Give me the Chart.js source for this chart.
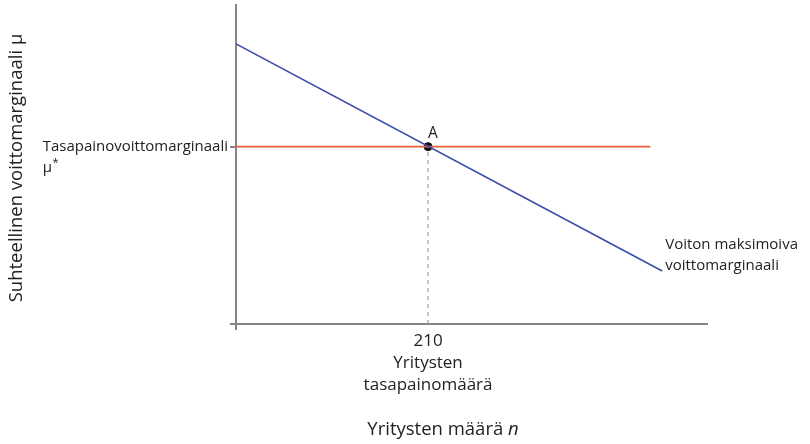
<!DOCTYPE html>
<html><head><meta charset="utf-8">
<script src="https://cdn.jsdelivr.net/npm/chart.js@4"></script>
<style>html,body{margin:0;padding:0;background:#fff}#wrap{width:810px;height:444px;position:relative}</style>
</head><body><div id="wrap"><canvas id="c"></canvas></div>
<script>
const xRange = [0, 515];
const yRange = [0, 100];
const profitMaxX = [0, 466];
const profitMaxY = [87.8, 16.6];
const equilX = [0, 453];
const muStar = 55.6;
const nStar = 210;
const xTickLabels = ['210', 'Yritysten', 'tasapainomäärä'];
const yLabelLines = ['Tasapainovoittomarginaali', 'μ', '*'];
const curveLabel = ['Voiton maksimoiva', 'voittomarginaali'];
const pointLabel = 'A';
const xTitle = 'Yritysten määrä ';
const xTitleVar = 'n';
const yTitle = 'Suhteellinen voittomarginaali μ';

const FONT = '"Open Sans", "Noto Sans", sans-serif';
const AXIS = '#858585';
const TXT = '#222';

const labels = {
  id: 'labels',
  afterDraw(chart) {
    const {ctx, scales: {x, y}, chartArea: a} = chart;
    ctx.save();
    ctx.fillStyle = TXT;
    ctx.font = '15px ' + FONT;
    ctx.textBaseline = 'middle';
    ctx.textAlign = 'right';
    const yp = y.getPixelForValue(muStar);
    ctx.fillText(yLabelLines[0], a.left - 8, yp);
    const w = ctx.measureText(yLabelLines[0]).width;
    ctx.textAlign = 'left';
    const lx = a.left - 8 - w;
    ctx.fillText(yLabelLines[1], lx, yp + 21);
    const mw = ctx.measureText(yLabelLines[1]).width;
    ctx.font = '11px ' + FONT;
    ctx.fillText(yLabelLines[2], lx + mw + 0.5, yp + 16);
    ctx.font = '15.5px ' + FONT;
    ctx.fillText(pointLabel, x.getPixelForValue(nStar) + 0, yp - 13);
    ctx.font = '15px ' + FONT;
    ctx.fillText(curveLabel[0], x.getPixelForValue(profitMaxX[1]) + 3, y.getPixelForValue(profitMaxY[1]) - 26);
    ctx.fillText(curveLabel[1], x.getPixelForValue(profitMaxX[1]) + 3, y.getPixelForValue(profitMaxY[1]) - 5);
    ctx.font = '18.5px ' + FONT;
    const t1 = ctx.measureText(xTitle).width;
    ctx.font = 'italic 18.5px ' + FONT;
    const t2 = ctx.measureText(xTitleVar).width;
    const cx = 443, start = cx - (t1 + t2) / 2;
    ctx.font = '18.5px ' + FONT;
    ctx.fillText(xTitle, start, 430);
    ctx.font = 'italic 18.5px ' + FONT;
    ctx.fillText(xTitleVar, start + t1, 430);
    ctx.font = '18.5px ' + FONT;
    ctx.translate(17, 168);
    ctx.rotate(-Math.PI / 2);
    ctx.textAlign = 'center';
    ctx.fillText(yTitle, 0, 0);
    ctx.restore();
  }
};

new Chart(document.getElementById('c'), {
  type: 'scatter',
  data: {
    datasets: [
      {data: profitMaxX.map((v, i) => ({x: v, y: profitMaxY[i]})), showLine: true, borderColor: '#3b4ca8', borderWidth: 1.6, pointRadius: 0},
      {data: equilX.map(v => ({x: v, y: muStar})), showLine: true, borderColor: '#e4603e', borderWidth: 1.8, pointRadius: 0},
      {data: [{x: nStar, y: 0}, {x: nStar, y: muStar}], showLine: true, borderColor: '#8a8a8a', borderWidth: 1, borderDash: [4, 4], pointRadius: 0},
      {data: [{x: nStar, y: muStar}], pointRadius: 4, pointBackgroundColor: '#111', pointBorderColor: '#111'}
    ]
  },
  options: {
    responsive: true, maintainAspectRatio: false, animation: false,
    layout: {padding: {top: 4, right: 103, left: 0, bottom: 0}},
    plugins: {legend: {display: false}, tooltip: {enabled: false}},
    scales: {
      x: {
        type: 'linear', min: xRange[0], max: xRange[1],
        afterBuildTicks: s => { s.ticks = [{value: 0}, {value: nStar}]; },
        afterFit: s => { s.height = 120; },
        border: {color: AXIS, width: 2},
        grid: {drawOnChartArea: false, tickLength: 6, color: c => c.tick && c.tick.value === 0 ? AXIS : 'rgba(0,0,0,0)', lineWidth: 2},
        ticks: {autoSkip: false, maxRotation: 0, padding: 0, color: TXT, font: {family: FONT, size: 17, lineHeight: 1.3},
          callback: v => v === nStar ? xTickLabels : ''}
      },
      y: {
        type: 'linear', min: yRange[0], max: yRange[1],
        afterBuildTicks: s => { s.ticks = [{value: 0}, {value: muStar}]; },
        afterFit: s => { s.width = 236; },
        border: {color: AXIS, width: 2},
        grid: {drawOnChartArea: false, tickLength: 6, color: AXIS, lineWidth: 2},
        ticks: {display: false}
      }
    }
  },
  plugins: [labels]
});
</script></body></html>
